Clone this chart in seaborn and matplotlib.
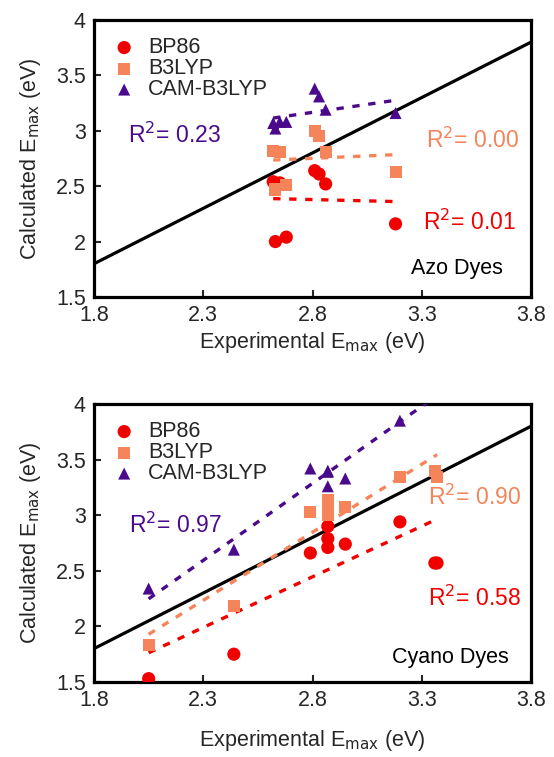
import numpy as np
import pandas as pd
import matplotlib
matplotlib.use("Agg")
import matplotlib.pyplot as plt
import seaborn as sns

sns.set_style("white")
plt.rcParams["font.family"] = ["Liberation Sans", "DejaVu Sans"]

# ---------------- data ----------------
methods = ["BP86", "B3LYP", "CAM-B3LYP"]
colors = ["#f20000", "#f5845a", "#4b0a8c"]
markers = ["o", "s", "^"]

# Azo dyes
azo_exp = [2.62, 2.63, 2.65, 2.68, 2.81, 2.83, 2.86, 3.18]
azo_bp86 = [2.54, 2.00, 2.53, 2.04, 2.64, 2.61, 2.52, 2.16]
azo_b3lyp = [2.82, 2.47, 2.81, 2.51, 3.00, 2.95, 2.81, 2.63]
azo_cam = [3.07, 3.02, 3.08, 3.08, 3.38, 3.31, 3.19, 3.16]
azo_r2 = ["0.01", "0.00", "0.23"]

# Cyano dyes
cy_exp = [2.05, 2.44, 2.79, 2.87, 2.87, 2.87, 2.95, 3.20, 3.36, 3.37]
cy_bp86 = [1.53, 1.75, 2.66, 2.90, 2.79, 2.71, 2.74, 2.94, 2.57, 2.57]
cy_b3lyp = [1.83, 2.18, 3.03, 3.14, 3.08, 3.00, 3.07, 3.34, 3.40, 3.34]
cy_cam = [2.34, 2.69, 3.42, 3.40, 3.39, 3.26, 3.33, 3.85, 4.10, 4.15]
cy_r2 = ["0.58", "0.90", "0.97"]

xticks = [1.8, 2.3, 2.8, 3.3, 3.8]
yticks = [1.5, 2.0, 2.5, 3.0, 3.5, 4.0]
ytick_labels = ["1.5", "2", "2.5", "3", "3.5", "4"]

panels = [
    dict(exp=azo_exp, vals=[azo_bp86, azo_b3lyp, azo_cam], r2=azo_r2,
         title="Azo Dyes",
         r2_pos=[(3.52, 2.17), (3.53, 2.915), (2.17, 2.96)],
         title_pos=(3.46, 1.76), xlabelpad=3),
    dict(exp=cy_exp, vals=[cy_bp86, cy_b3lyp, cy_cam], r2=cy_r2,
         title="Cyano Dyes",
         r2_pos=[(3.54, 2.255), (3.54, 3.16), (2.17, 2.91)],
         title_pos=(3.43, 1.72), xlabelpad=12),
]

fig = plt.figure(figsize=(5.54, 7.57), dpi=100)
ax_rects = [
    [0.1697, 0.6077, 0.7888, 0.3659],
    [0.1697, 0.0991, 0.7888, 0.3672],
]

fs = 15.5
for rect, p in zip(ax_rects, panels):
    ax = fig.add_axes(rect)
    # y = x reference line
    ref = pd.DataFrame({"x": [1.8, 3.8], "y": [1.8, 3.8]})
    sns.lineplot(data=ref, x="x", y="y", ax=ax, color="black", lw=2.3, zorder=2)
    for m, c, mk, v in zip(methods, colors, markers, p["vals"]):
        df = pd.DataFrame({"exp": p["exp"], "calc": v})
        sns.regplot(data=df, x="exp", y="calc", ax=ax, scatter=False, ci=None,
                    truncate=True,
                    line_kws=dict(color=c, lw=2.4, ls=(0, (2.2, 2.6)), zorder=3))
        size = 90 if mk == "o" else 75
        sns.scatterplot(data=df, x="exp", y="calc", ax=ax, color=c, marker=mk,
                        s=size, edgecolor="none", label=m, zorder=4, clip_on=True)
    for (tx, ty), c, r in zip(p["r2_pos"], colors, p["r2"]):
        ax.text(tx, ty, "R$^2$= " + r, color=c, fontsize=16.5,
                ha="center", va="center")
    ax.text(p["title_pos"][0], p["title_pos"][1], p["title"], color="black",
            fontsize=fs, ha="center", va="center")

    ax.set_xlim(1.8, 3.8)
    ax.set_ylim(1.5, 4.0)
    ax.set_xticks(xticks)
    ax.set_xticklabels([str(t) for t in xticks])
    ax.set_yticks(yticks)
    ax.set_yticklabels(ytick_labels)
    ax.tick_params(axis="both", direction="in", length=5, width=1.5,
                   labelsize=fs, pad=6, bottom=True, left=True)
    for s in ax.spines.values():
        s.set_linewidth(2.3)
        s.set_color("black")
    ax.set_xlabel("Experimental E$_{\\mathrm{max}}$ (eV)", fontsize=fs,
                  labelpad=p["xlabelpad"])
    ax.set_ylabel("Calculated E$_{\\mathrm{max}}$ (eV)", fontsize=fs, labelpad=9)
    leg = ax.legend(loc="upper left", frameon=False, fontsize=fs,
                    handletextpad=0.5, labelspacing=0.0, borderaxespad=0.4,
                    handlelength=1.2)

fig.savefig("out.png", dpi=100)
